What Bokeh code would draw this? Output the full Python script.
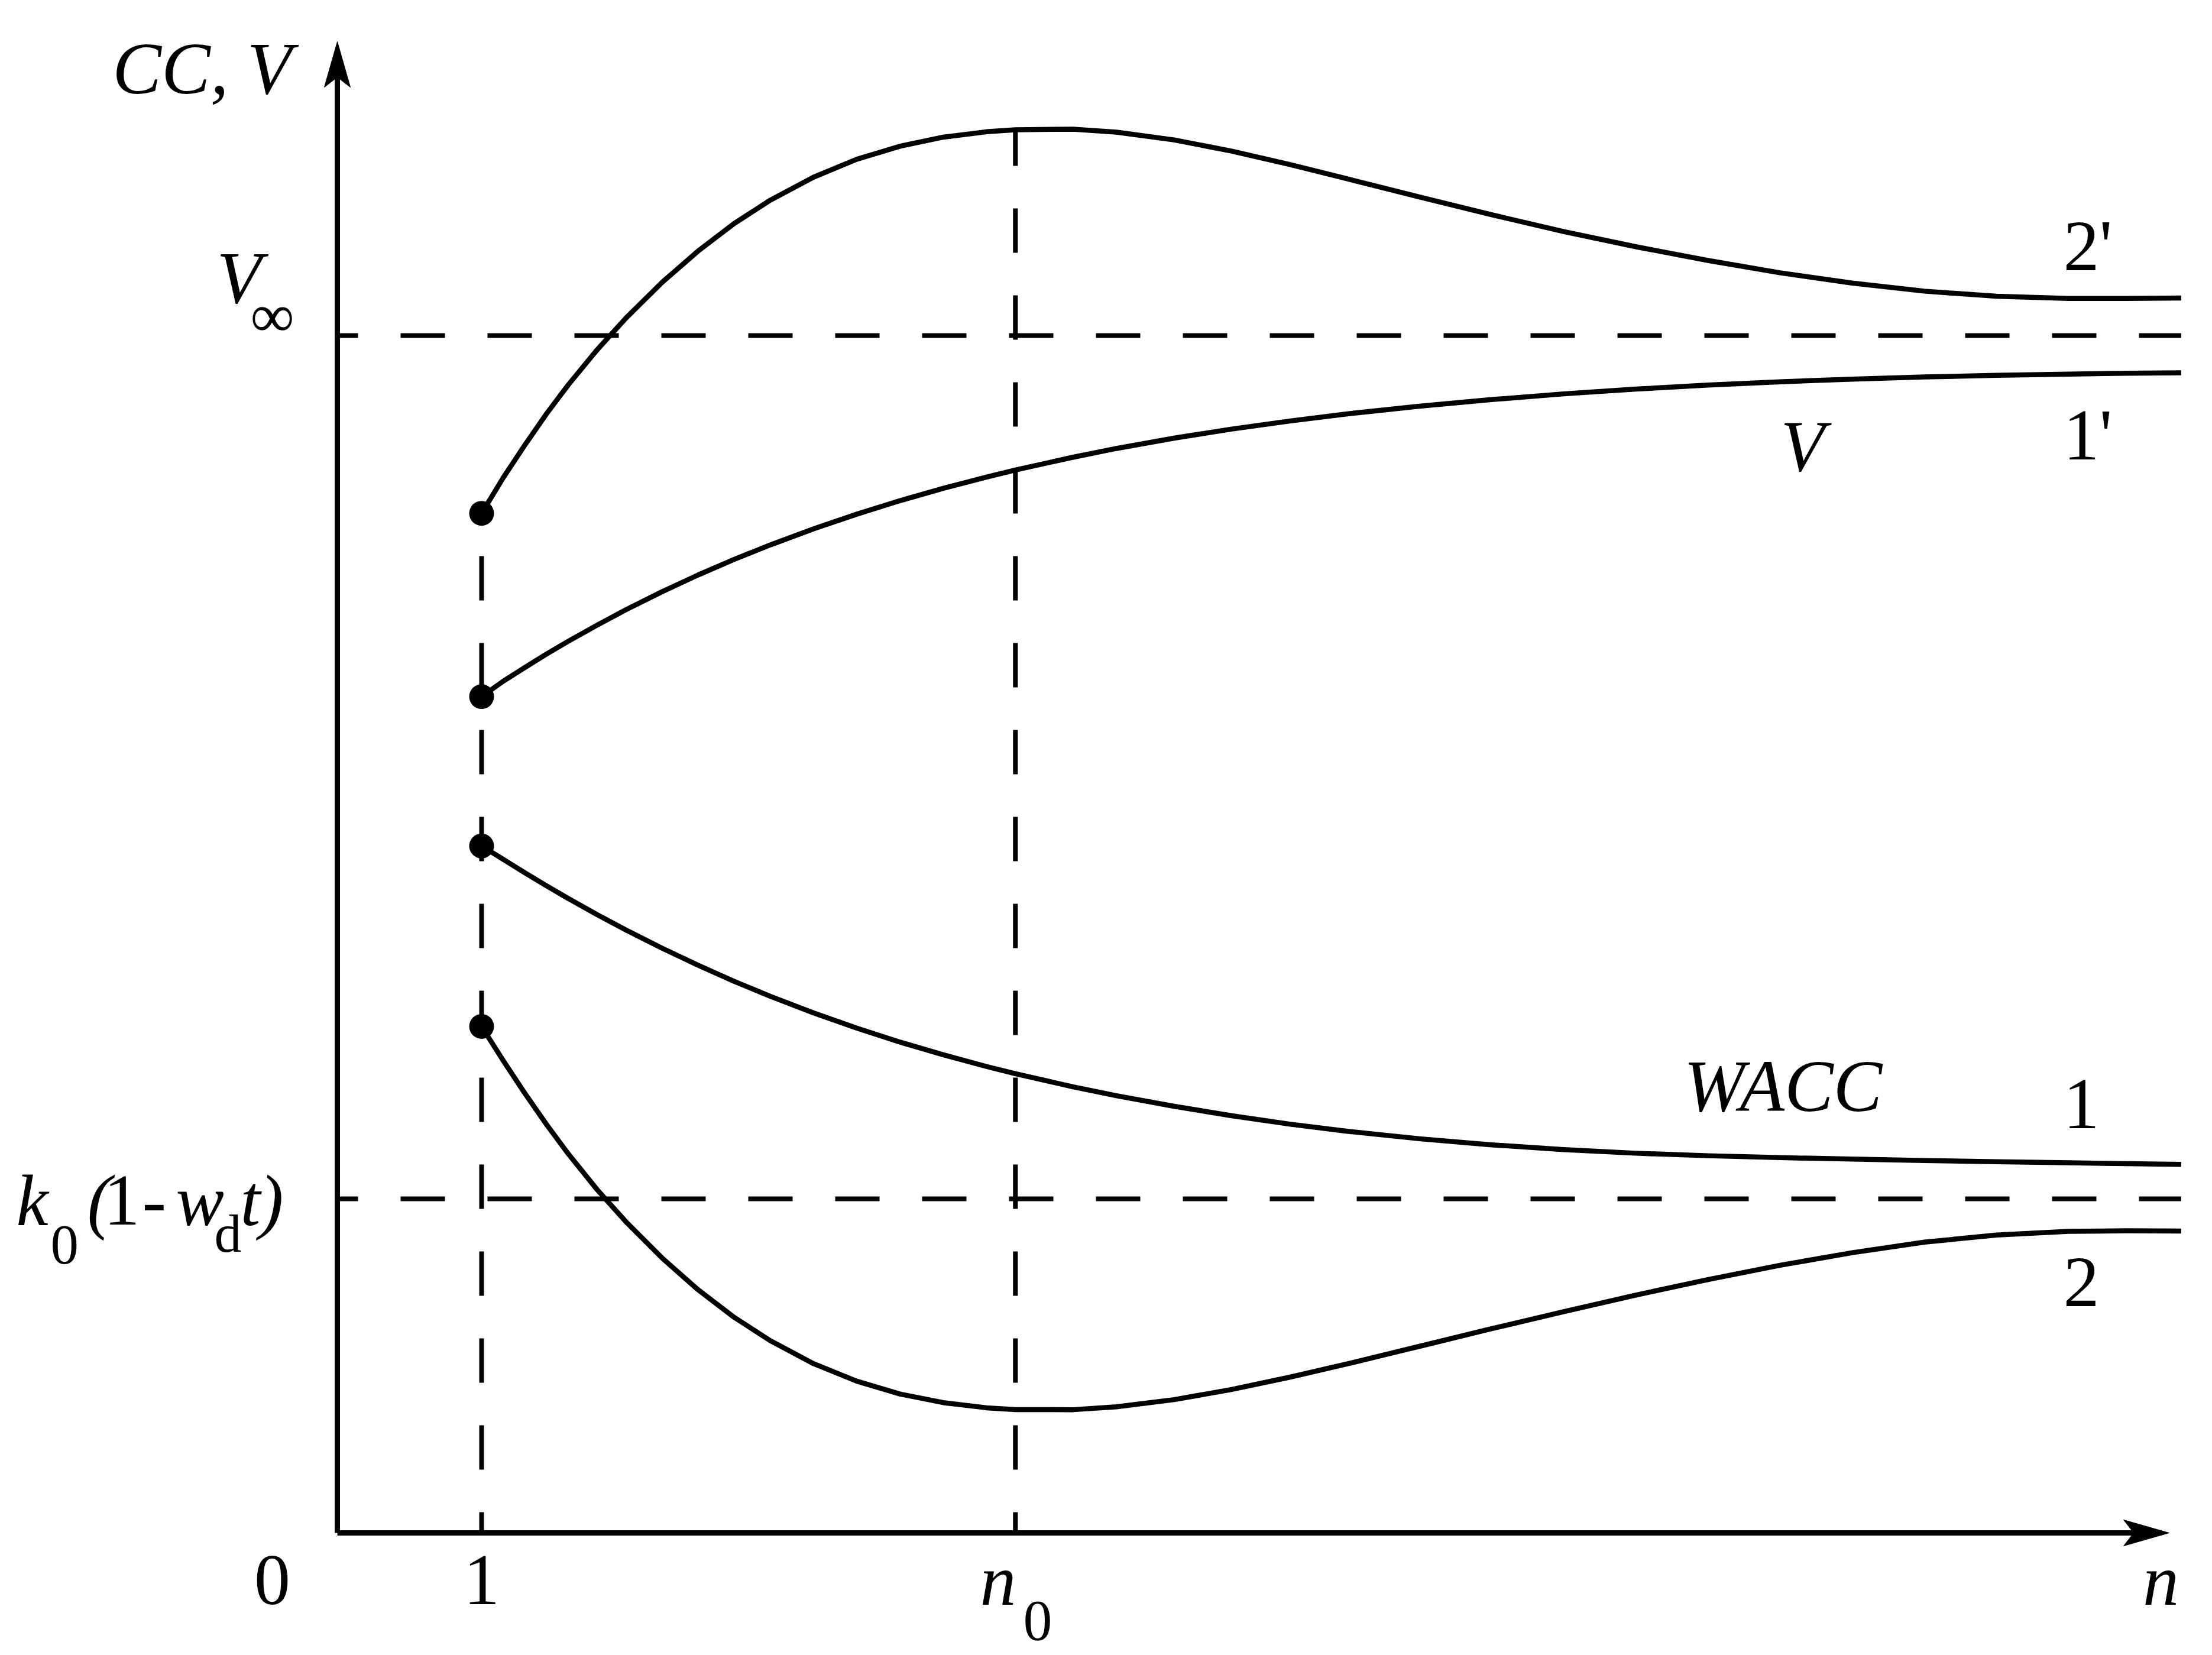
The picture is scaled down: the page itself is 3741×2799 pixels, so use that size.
from bokeh.plotting import figure
from bokeh.models import ColumnDataSource, Range1d
from bokeh.core.properties import value
from bokeh.embed import file_html
from bokeh.resources import INLINE

# ---------------- data ----------------
n = [1.0, 1.15, 1.3, 1.45, 1.6, 1.8, 2.0, 2.25, 2.5, 2.75, 3.0, 3.3, 3.6,
     3.9, 4.2, 4.5, 4.7, 5.1, 5.4, 5.8, 6.2, 6.6, 7.0, 7.5, 8.0, 8.5, 9.0,
     9.5, 10.0, 10.5, 11.0, 11.5, 12.0, 12.4, 12.78]
curve_2p = [8.515, 8.813, 9.086, 9.347, 9.587, 9.880, 10.145, 10.443, 10.705,
            10.935, 11.130, 11.322, 11.472, 11.581, 11.657, 11.702, 11.719,
            11.724, 11.699, 11.634, 11.540, 11.429, 11.309, 11.158, 11.009,
            10.869, 10.742, 10.627, 10.524, 10.438, 10.371, 10.328, 10.310,
            10.310, 10.313]
curve_1p = [6.985, 7.113, 7.228, 7.340, 7.446, 7.581, 7.710, 7.860, 8.000,
            8.130, 8.251, 8.385, 8.508, 8.621, 8.724, 8.818, 8.877, 8.984,
            9.057, 9.143, 9.219, 9.286, 9.346, 9.410, 9.465, 9.513, 9.553,
            9.586, 9.614, 9.636, 9.654, 9.668, 9.678, 9.685, 9.689]
curve_1 = [5.737, 5.625, 5.513, 5.404, 5.299, 5.164, 5.036, 4.884, 4.741,
           4.607, 4.482, 4.343, 4.216, 4.099, 3.993, 3.895, 3.835, 3.725,
           3.651, 3.563, 3.484, 3.414, 3.354, 3.292, 3.241, 3.201, 3.171,
           3.150, 3.134, 3.122, 3.110, 3.100, 3.091, 3.084, 3.078]
curve_2 = [4.23, 3.944, 3.671, 3.411, 3.167, 2.868, 2.599, 2.297, 2.031,
           1.801, 1.606, 1.414, 1.267, 1.160, 1.088, 1.045, 1.030, 1.029,
           1.053, 1.113, 1.198, 1.300, 1.412, 1.558, 1.705, 1.848, 1.986,
           2.115, 2.235, 2.340, 2.428, 2.488, 2.518, 2.523, 2.521]
N_ONE = 1.0
N0 = 4.7
V_INF = 10.0
K0_LEVEL = 2.79
N_END = 12.78
X_AXIS_TIP = 12.697
Y_AXIS_TIP = 12.454

FONT = value("Liberation Serif")

# ---------------- figure ----------------
W, H = 3741, 2799
Y_PX = 202.5  # pixels per y unit
p = figure(width=W, height=H, output_backend="svg", toolbar_location=None,
           x_range=Range1d(-2.336066, 12.995902), y_range=Range1d(-1.022222, 12.8),
           x_axis_location=None, y_axis_location=None, min_border=0,
           min_border_left=0, min_border_right=0, min_border_top=0,
           min_border_bottom=0)
p.grid.visible = False
p.outline_line_color = None
p.background_fill_color = "white"
p.border_fill_color = "white"

# dashed guide lines
DASH = "75 72"
p.line([0, N_END], [V_INF, V_INF], line_color="black", line_width=8,
       line_dash=DASH, line_dash_offset=40)
p.line([0, N_END], [K0_LEVEL, K0_LEVEL], line_color="black", line_width=8,
       line_dash=DASH, line_dash_offset=40)
p.line([N_ONE, N_ONE], [0, curve_2p[0]], line_color="black", line_width=8,
       line_dash=DASH, line_dash_offset=40)
p.line([N0, N0], [0, curve_2p[n.index(N0)]], line_color="black", line_width=8,
       line_dash=DASH, line_dash_offset=40)

# curves
for ys in (curve_2p, curve_1p, curve_1, curve_2):
    p.line(n, ys, line_color="black", line_width=8.5, line_join="round")

# start dots
p.scatter([N_ONE] * 4, [curve_2p[0], curve_1p[0], curve_1[0], curve_2[0]],
          size=42, marker="circle", fill_color="black", line_color=None)

# axes with arrows
ax_w = 9
hy_len, hy_half, hy_notch = 77 / Y_PX, 22 / 244, 60 / Y_PX
hx_len, hx_half, hx_notch = 77 / 244, 22 / Y_PX, 60 / 244
p.line([0, 0], [0, Y_AXIS_TIP - hy_notch], line_color="black", line_width=ax_w)
p.line([0, X_AXIS_TIP - hx_notch], [0, 0], line_color="black", line_width=ax_w)
p.patch([0, hy_half, 0, -hy_half],
        [Y_AXIS_TIP, Y_AXIS_TIP - hy_len, Y_AXIS_TIP - hy_notch, Y_AXIS_TIP - hy_len],
        fill_color="black", line_color="black", line_width=1)
p.patch([X_AXIS_TIP, X_AXIS_TIP - hx_len, X_AXIS_TIP - hx_notch, X_AXIS_TIP - hx_len],
        [0, hx_half, 0, -hx_half],
        fill_color="black", line_color="black", line_width=1)

# ---------------- texts ----------------
lab_x = 11.963
texts = [
    # text, x, y(baseline), size px, style, align, baseline
    ("CC, V", -0.3156, 12.0, 124, "italic", "right", "alphabetic"),
    ("V", -0.836, 10.252, 124, "italic", "left", "alphabetic"),
    ("∞", -0.451, 10.17, 104, "normal", "center", "middle"),
    ("k", -2.225, 2.553, 122, "italic", "left", "alphabetic"),
    ("0", -1.988, 2.232, 95, "normal", "left", "alphabetic"),
    ("(", -1.734, 2.553, 122, "italic", "left", "alphabetic"),
    ("1", -1.619, 2.553, 122, "normal", "left", "alphabetic"),
    ("-", -1.352, 2.553, 122, "normal", "left", "alphabetic"),
    ("w", -1.119, 2.553, 122, "italic", "left", "alphabetic"),
    ("d", -0.852, 2.331, 92, "normal", "left", "alphabetic"),
    ("t", -0.672, 2.553, 122, "italic", "left", "alphabetic"),
    (")", -0.54, 2.553, 122, "italic", "left", "alphabetic"),
    ("0", -0.451, -0.617, 122, "normal", "center", "alphabetic"),
    ("1", N_ONE, -0.617, 122, "normal", "center", "alphabetic"),
    ("n", N0 - 0.245, -0.617, 122, "italic", "left", "alphabetic"),
    ("0", N0 + 0.054, -0.914, 98, "normal", "left", "alphabetic"),
    ("n", 12.639, -0.617, 122, "italic", "center", "alphabetic"),
    ("2'", lab_x, 10.528, 122, "normal", "left", "alphabetic"),
    ("1'", lab_x, 8.948, 122, "normal", "left", "alphabetic"),
    ("V", 10.004, 8.854, 122, "italic", "left", "alphabetic"),
    ("WACC", 9.332, 3.501, 124, "italic", "left", "alphabetic"),
    ("1", lab_x, 3.358, 122, "normal", "left", "alphabetic"),
    ("2", lab_x, 1.872, 122, "normal", "left", "alphabetic"),
]


def y_adj(t):
    # the renderer places "alphabetic" text lower than the nominal baseline;
    # compensate by a fraction of the font size
    if t[6] == "alphabetic":
        return t[2] + 0.37 * t[3] / Y_PX
    return t[2]


src = ColumnDataSource(dict(
    text=[t[0] for t in texts], x=[t[1] for t in texts],
    y=[y_adj(t) for t in texts],
    size=["%dpx" % t[3] for t in texts], style=[t[4] for t in texts],
    align=[t[5] for t in texts], base=[t[6] for t in texts]))
p.text(x="x", y="y", text="text", source=src, text_font=FONT,
       text_font_size="size", text_font_style="style", text_align="align",
       text_baseline="base", text_color="black")

open("out.html", "w").write(file_html(p, INLINE))
